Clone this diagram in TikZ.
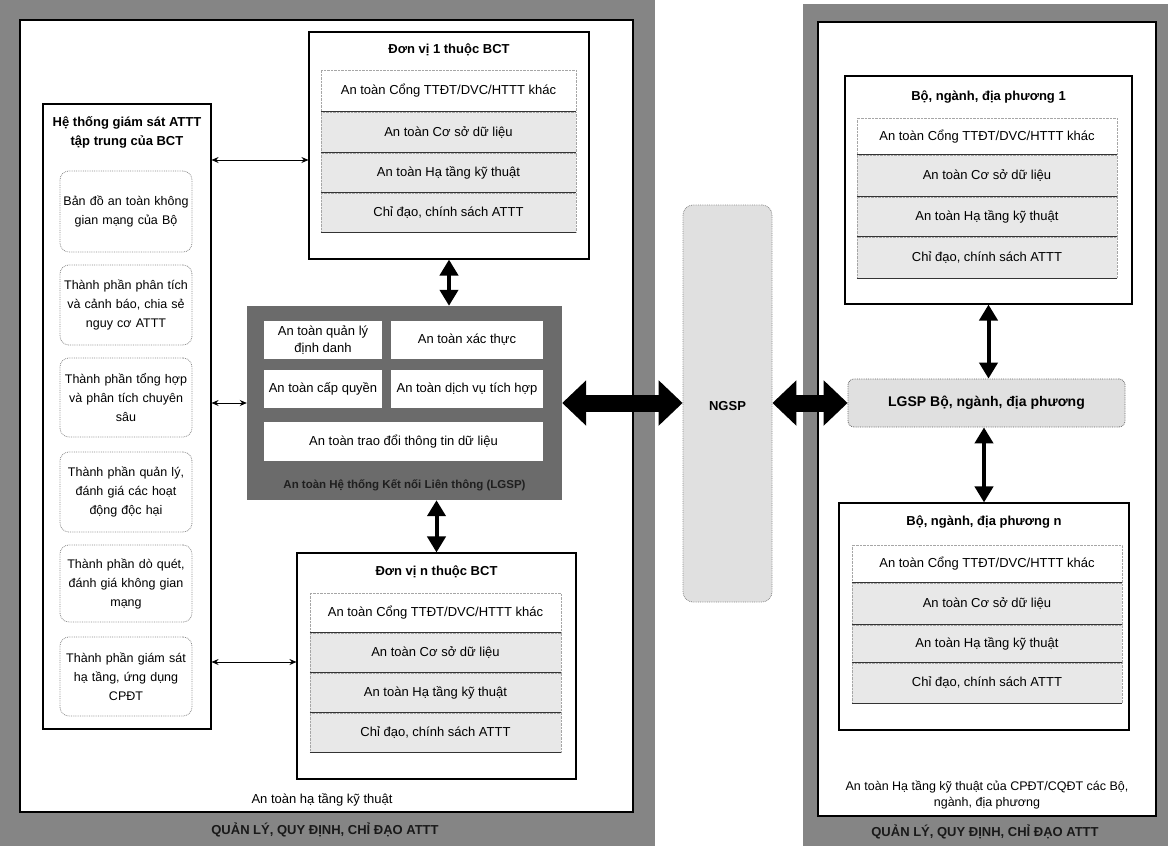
\documentclass[tikz,border=0pt]{standalone}
\usepackage{fontspec}
\setmainfont{Liberation Sans}
\usetikzlibrary{arrows.meta}
\begin{document}
\begin{tikzpicture}[x=1pt,y=-1pt,
  every node/.style={font=\fontsize{13}{18}\selectfont, inner sep=0pt, align=center},
  frame/.style={fill=black!48},
  panel/.style={draw=black, line width=1.6pt, fill=white},
  unitbox/.style={draw=black, line width=1.1pt, fill=white},
  titletext/.style={font=\fontsize{13}{19}\selectfont\bfseries},
  rowfirst/.style={draw=black!35, densely dotted, fill=white},
  rowshade/.style={draw=black!35, densely dotted, fill=black!9},
  sepline/.style={draw=black!80, line width=0.9pt},
  subbox/.style={draw=black!45, densely dotted, line width=0.8pt, rounded corners=9pt, fill=white,
                 minimum width=132pt, text width=132pt, font=\fontsize{12.5}{19}\selectfont},
  cell/.style={fill=white, font=\fontsize{13}{17}\selectfont},
  gatebox/.style={fill=black!58},
  ngspbox/.style={draw=black!45, densely dotted, line width=0.8pt, rounded corners=10pt, fill=black!12},
  lgspbbox/.style={draw=black!60, densely dotted, line width=0.8pt, rounded corners=6pt, fill=black!12},
  thinarrow/.style={line width=0.9pt, {Stealth[length=7pt,width=6pt]}-{Stealth[length=7pt,width=6pt]}},
  midarrow/.style={line width=4pt, {Triangle[length=16pt,width=18pt]}-{Triangle[length=16pt,width=18pt]}},
  bigarrow/.style={line width=17pt, {Triangle[length=24pt,width=44pt]}-{Triangle[length=24pt,width=44pt]}},
  bandtext/.style={font=\fontsize{13}{15}\selectfont\bfseries, text=black!90},
]
\useasboundingbox (0,0) rectangle (1168,846);
\fill[white] (0,0) rectangle (1168,846);

% ---------- left panel: the ministry's own systems ----------
\fill[frame] (0,0) rectangle (655,846);
\node[panel, minimum width=613pt, minimum height=792pt] (leftpanel) at (326.5,416) {};
\node (leftfoot) at (322,800) {An toàn hạ tầng kỹ thuật};
\node[bandtext] (leftband) at (325,830) {QUẢN LÝ, QUY ĐỊNH, CHỈ ĐẠO ATTT};

% central monitoring system
\node[unitbox, minimum width=168pt, minimum height=625pt] (mon) at (127,416.5) {};
\node[titletext] (montitle) at (127,132) {Hệ thống giám sát ATTT\\tập trung của BCT};
\node[subbox, minimum height=81pt] (s1) at (126,211.5) {Bản đồ an toàn không\\gian mạng của Bộ};
\node[subbox, minimum height=80pt] (s2) at (126,305) {Thành phần phân tích\\và cảnh báo, chia sẻ\\nguy cơ ATTT};
\node[subbox, minimum height=79pt] (s3) at (126,397.5) {Thành phần tổng hợp\\và phân tích chuyên\\sâu};
\node[subbox, minimum height=80pt] (s4) at (126,492) {Thành phần quản lý,\\đánh giá các hoạt\\động độc hại};
\node[subbox, minimum height=77pt] (s5) at (126,583.5) {Thành phần dò quét,\\đánh giá không gian\\mạng};
\node[subbox, minimum height=79pt] (s6) at (126,676.5) {Thành phần giám sát\\hạ tầng, ứng dụng\\CPĐT};

% unit 1
\node[unitbox, minimum width=280pt, minimum height=227pt] (u1) at (449,145.5) {};
\node[titletext] (u1title) at (449,50) {Đơn vị 1 thuộc BCT};
\node[rowfirst, minimum width=255pt, minimum height=42pt] (u1a) at (448.5,91) {An toàn Cổng TTĐT/DVC/HTTT khác};
\node[rowshade, minimum width=255pt, minimum height=41pt] (u1b) at (448.5,132.5) {An toàn Cơ sở dữ liệu};
\node[rowshade, minimum width=255pt, minimum height=40pt] (u1c) at (448.5,173) {An toàn Hạ tầng kỹ thuật};
\node[rowshade, minimum width=255pt, minimum height=39pt] (u1d) at (448.5,212.5) {Chỉ đạo, chính sách ATTT};

% unit n
\node[unitbox, minimum width=279pt, minimum height=226pt] (un) at (436.5,666) {};
\node[titletext] (untitle) at (436.5,572) {Đơn vị n thuộc BCT};
\node[rowfirst, minimum width=251pt, minimum height=40pt] (una) at (435.5,613) {An toàn Cổng TTĐT/DVC/HTTT khác};
\node[rowshade, minimum width=251pt, minimum height=40pt] (unb) at (435.5,653) {An toàn Cơ sở dữ liệu};
\node[rowshade, minimum width=251pt, minimum height=40pt] (unc) at (435.5,693) {An toàn Hạ tầng kỹ thuật};
\node[rowshade, minimum width=251pt, minimum height=39pt] (und) at (435.5,732.5) {Chỉ đạo, chính sách ATTT};

% LGSP of the ministry
\node[gatebox, minimum width=315pt, minimum height=194pt] (lgsp) at (404.5,403) {};
\node[cell, minimum width=118pt, minimum height=38pt] (c1) at (323,340) {An toàn quản lý\\định danh};
\node[cell, minimum width=152pt, minimum height=38pt] (c2) at (467,340) {An toàn xác thực};
\node[cell, minimum width=118pt, minimum height=38pt] (c3) at (323,389) {An toàn cấp quyền};
\node[cell, minimum width=152pt, minimum height=38pt] (c4) at (467,389) {An toàn dịch vụ tích hợp};
\node[cell, minimum width=279pt, minimum height=39pt] (c5) at (403.5,441.5) {An toàn trao đổi thông tin dữ liệu};
\node[font=\fontsize{11.5}{13}\selectfont\bfseries, text=black!88] (lgsplabel) at (404.5,485) {An toàn Hệ thống Kết nối Liên thông (LGSP)};

% ---------- national platform ----------
\node[ngspbox, minimum width=89pt, minimum height=397pt] (ngsp) at (727.5,403.5) {};
\node[font=\fontsize{13}{15}\selectfont\bfseries] (ngsptext) at (727.5,406) {NGSP};

% ---------- right panel: ministries, sectors, localities ----------
\fill[frame] (803,4) rectangle (1168,846);
\node[panel, minimum width=338pt, minimum height=794pt] (rightpanel) at (987,419) {};
\node[font=\fontsize{12.5}{16}\selectfont] (rightfoot) at (987,795) {An toàn Hạ tầng kỹ thuật của CPĐT/CQĐT các Bộ,\\ngành, địa phương};
\node[bandtext] (rightband) at (985,832) {QUẢN LÝ, QUY ĐỊNH, CHỈ ĐẠO ATTT};

\node[unitbox, minimum width=287pt, minimum height=228pt] (b1) at (988.5,190) {};
\node[titletext] (b1title) at (988.5,97) {Bộ, ngành, địa phương 1};
\node[rowfirst, minimum width=260pt, minimum height=37pt] (b1a) at (987,136.5) {An toàn Cổng TTĐT/DVC/HTTT khác};
\node[rowshade, minimum width=260pt, minimum height=42pt] (b1b) at (987,176) {An toàn Cơ sở dữ liệu};
\node[rowshade, minimum width=260pt, minimum height=40pt] (b1c) at (987,217) {An toàn Hạ tầng kỹ thuật};
\node[rowshade, minimum width=260pt, minimum height=41pt] (b1d) at (987,257.5) {Chỉ đạo, chính sách ATTT};

\node[lgspbbox, minimum width=277pt, minimum height=48pt] (lgspb) at (986.5,403)
  {\fontsize{14}{16}\selectfont\bfseries LGSP Bộ, ngành, địa phương};

\node[unitbox, minimum width=290pt, minimum height=227pt] (bn) at (984,616.5) {};
\node[titletext] (bntitle) at (984,522) {Bộ, ngành, địa phương n};
\node[rowfirst, minimum width=270pt, minimum height=38pt] (bna) at (987,564) {An toàn Cổng TTĐT/DVC/HTTT khác};
\node[rowshade, minimum width=270pt, minimum height=42pt] (bnb) at (987,604) {An toàn Cơ sở dữ liệu};
\node[rowshade, minimum width=270pt, minimum height=38pt] (bnc) at (987,644) {An toàn Hạ tầng kỹ thuật};
\node[rowshade, minimum width=270pt, minimum height=40pt] (bnd) at (987,683) {Chỉ đạo, chính sách ATTT};

% solid rules between the shaded rows
\foreach \r in {u1b,u1c,u1d,unb,unc,und,b1b,b1c,b1d,bnb,bnc,bnd}
  \draw[sepline] (\r.north west) -- (\r.north east);
\foreach \r in {u1d,und,b1d,bnd}
  \draw[sepline] (\r.south west) -- (\r.south east);

% ---------- connectors ----------
\coordinate (toprow) at (0,160);
\draw[thinarrow] (mon.east |- toprow) -- (u1.west |- toprow);
\draw[thinarrow] (mon.east |- lgsp.west) -- (lgsp.west);
\coordinate (lowrow) at (0,662);
\draw[thinarrow] (mon.east |- lowrow) -- (un.west |- lowrow);

\draw[midarrow] (u1.south) -- (u1.south |- lgsp.north);
\draw[midarrow] (un.north |- lgsp.south) -- (un.north);
\draw[midarrow] (b1.south) -- (b1.south |- lgspb.north);
\draw[midarrow] (bn.north |- lgspb.south) -- (bn.north);

\draw[bigarrow] (lgsp.east) -- (ngsp.west |- lgsp.east);
\draw[bigarrow] (ngsp.east |- lgspb.west) -- (lgspb.west);
\end{tikzpicture}
\end{document}
